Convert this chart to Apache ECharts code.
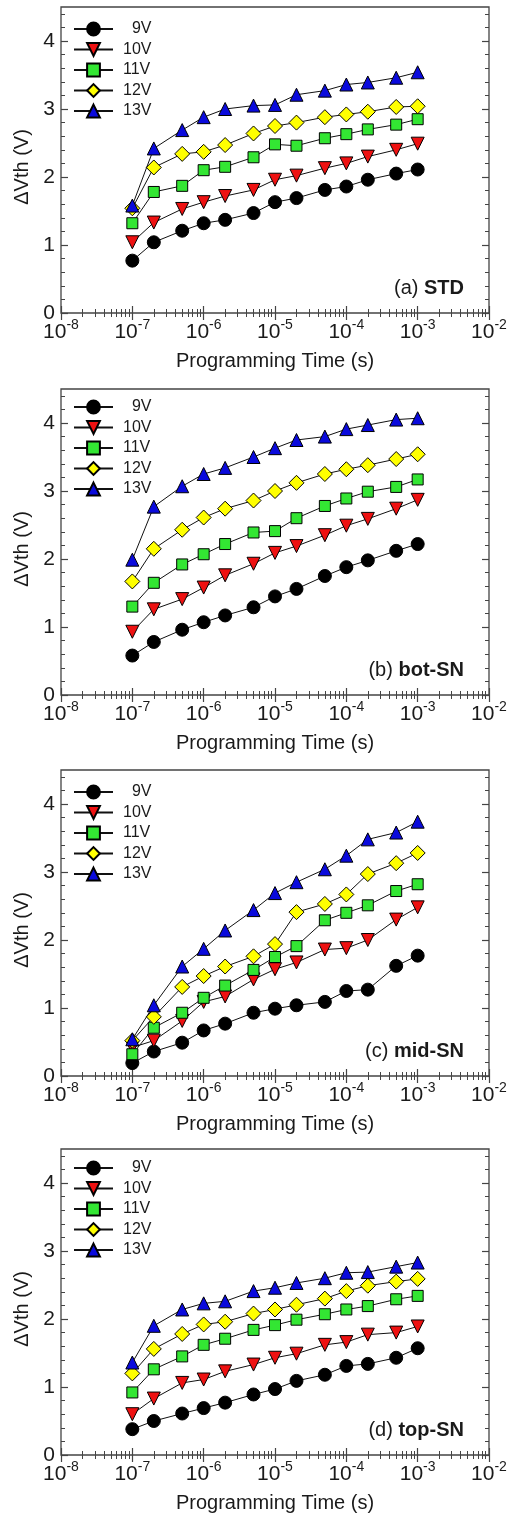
<!DOCTYPE html>
<html>
<head>
<meta charset="utf-8">
<script src="https://cdn.jsdelivr.net/npm/echarts@6/dist/echarts.min.js"></script>
<style>
html,body{margin:0;padding:0;background:#fff;}
#chart{width:511px;height:1515px;}
</style>
</head>
<body>
<div id="chart"></div>
<script>
// ---------------- data ----------------
const times = [1e-7, 2e-7, 5e-7, 1e-6, 2e-6, 5e-6, 1e-5, 2e-5, 5e-5, 1e-4, 2e-4, 5e-4, 1e-3];
const voltages = ['9V', '10V', '11V', '12V', '13V'];
const panelTags = ['(a) ', '(b) ', '(c) ', '(d) '];
const panelNames = ['STD', 'bot-SN', 'mid-SN', 'top-SN'];
const xTickValues = [1e-8, 1e-7, 1e-6, 1e-5, 1e-4, 1e-3, 1e-2];
const yTickValues = [0, 1, 2, 3, 4];

// (a) STD
const std9  = [0.77, 1.04, 1.21, 1.32, 1.37, 1.47, 1.63, 1.69, 1.81, 1.86, 1.96, 2.05, 2.11];
const std10 = [1.04, 1.33, 1.53, 1.63, 1.72, 1.81, 1.96, 2.02, 2.13, 2.20, 2.30, 2.40, 2.49];
const std11 = [1.32, 1.78, 1.87, 2.10, 2.15, 2.29, 2.48, 2.46, 2.57, 2.63, 2.70, 2.77, 2.85];
const std12 = [1.54, 2.14, 2.34, 2.37, 2.47, 2.64, 2.75, 2.80, 2.88, 2.92, 2.96, 3.03, 3.04];
const std13 = [1.58, 2.42, 2.69, 2.88, 3.00, 3.05, 3.06, 3.21, 3.27, 3.36, 3.39, 3.46, 3.54];
// (b) bot-SN
const bot9  = [0.58, 0.78, 0.96, 1.07, 1.17, 1.29, 1.45, 1.56, 1.75, 1.88, 1.98, 2.12, 2.22];
const bot10 = [0.93, 1.26, 1.41, 1.58, 1.76, 1.93, 2.09, 2.19, 2.35, 2.49, 2.59, 2.74, 2.87];
const bot11 = [1.30, 1.65, 1.92, 2.07, 2.22, 2.39, 2.41, 2.60, 2.78, 2.89, 2.99, 3.06, 3.17];
const bot12 = [1.67, 2.15, 2.43, 2.61, 2.74, 2.86, 3.00, 3.12, 3.25, 3.32, 3.38, 3.47, 3.54];
const bot13 = [1.99, 2.77, 3.07, 3.25, 3.34, 3.50, 3.63, 3.75, 3.80, 3.91, 3.97, 4.05, 4.07];
// (c) mid-SN
const mid9  = [0.19, 0.36, 0.49, 0.67, 0.77, 0.93, 0.99, 1.04, 1.09, 1.25, 1.27, 1.62, 1.77];
const mid10 = [0.42, 0.52, 0.81, 1.09, 1.17, 1.42, 1.57, 1.67, 1.86, 1.88, 2.00, 2.30, 2.48];
const mid11 = [0.32, 0.71, 0.93, 1.15, 1.33, 1.56, 1.75, 1.91, 2.29, 2.40, 2.51, 2.72, 2.82];
const mid12 = [0.52, 0.87, 1.31, 1.47, 1.61, 1.76, 1.94, 2.41, 2.53, 2.67, 2.97, 3.13, 3.28];
const mid13 = [0.54, 1.04, 1.61, 1.87, 2.14, 2.44, 2.69, 2.85, 3.04, 3.24, 3.48, 3.58, 3.74];
// (d) top-SN
const top9  = [0.38, 0.50, 0.61, 0.69, 0.77, 0.89, 0.97, 1.09, 1.18, 1.31, 1.34, 1.43, 1.57];
const top10 = [0.60, 0.83, 1.06, 1.11, 1.23, 1.33, 1.43, 1.49, 1.62, 1.66, 1.77, 1.80, 1.89];
const top11 = [0.92, 1.26, 1.45, 1.62, 1.71, 1.84, 1.91, 1.99, 2.07, 2.14, 2.19, 2.29, 2.34];
const top12 = [1.20, 1.56, 1.78, 1.92, 1.96, 2.08, 2.14, 2.21, 2.30, 2.41, 2.49, 2.55, 2.59];
const top13 = [1.36, 1.90, 2.14, 2.23, 2.26, 2.41, 2.46, 2.53, 2.60, 2.68, 2.69, 2.77, 2.83];

const panelData = [
  [std9, std10, std11, std12, std13],
  [bot9, bot10, bot11, bot12, bot13],
  [mid9, mid10, mid11, mid12, mid13],
  [top9, top10, top11, top12, top13]
];

// ---------------- styles / layout ----------------
const FONT = 'Liberation Sans, Arial, sans-serif';
const AXIS_COLOR = '#444';
const TEXT_COLOR = '#1a1a1a';
const seriesStyle = [
  { symbol: 'circle',   rotate: 0,   size: 13, color: '#000000' },
  { symbol: 'triangle', rotate: 180, size: 13, color: '#ee1111' },
  { symbol: 'rect',     rotate: 0,   size: 11, color: '#33e633' },
  { symbol: 'diamond',  rotate: 0,   size: 15, color: '#ffff00' },
  { symbol: 'triangle', rotate: 0,   size: 13, color: '#0a0adc' }
];
const gridTops = [7, 389, 770, 1149];
const legendTops = [21, 399, 784, 1160];
const GRID_LEFT = 61, GRID_W = 428, GRID_H = 306;

// minor tick positions (axis decoration only)
const minorX = [];
for (let e = -8; e < -2; e++) for (let k = 2; k <= 9; k++) minorX.push(k * Math.pow(10, e));
const minorY = [];
for (let v = 0; v <= 4.4001; v += 0.2) { const r = Math.round(v * 10) / 10; if (Math.abs(r - Math.round(r)) > 1e-6) minorY.push(r); }

const grids = [], xAxes = [], yAxes = [], series = [], legends = [], titles = [];

function xLabelFmt(v) {
  const e = Math.round(Math.log10(v));
  return '{b|10}{s|' + e + '}';
}

gridTops.forEach((top, i) => {
  grids.push({ left: GRID_LEFT, top: top, width: GRID_W, height: GRID_H, show: true,
    borderColor: AXIS_COLOR, borderWidth: 1.3, backgroundColor: 'transparent', containLabel: false });

  const xb = { type: 'log', logBase: 10, gridIndex: i, min: 1e-8, max: 1e-2,
    splitLine: { show: false }, axisLine: { show: false } };
  const xi = xAxes.length;
  xAxes.push(Object.assign({}, xb, { position: 'bottom',
    axisTick: { inside: true, length: 7, customValues: xTickValues, lineStyle: { color: AXIS_COLOR, width: 1.2 } },
    axisLabel: { customValues: xTickValues, formatter: xLabelFmt, margin: 5, color: TEXT_COLOR,
      rich: { b: { fontSize: 21, fontFamily: FONT, color: TEXT_COLOR, lineHeight: 25, verticalAlign: 'bottom' },
              s: { fontSize: 14, fontFamily: FONT, color: TEXT_COLOR, lineHeight: 15, verticalAlign: 'top' } } },
    name: 'Programming Time (s)', nameLocation: 'middle', nameGap: 38,
    nameTextStyle: { fontSize: 20, fontFamily: FONT, color: TEXT_COLOR } }));
  xAxes.push(Object.assign({}, xb, { position: 'bottom',
    axisTick: { inside: true, length: 4, customValues: minorX, lineStyle: { color: AXIS_COLOR, width: 1 } },
    axisLabel: { show: false } }));
  xAxes.push(Object.assign({}, xb, { position: 'top',
    axisTick: { inside: true, length: 7, customValues: xTickValues, lineStyle: { color: AXIS_COLOR, width: 1.2 } },
    axisLabel: { show: false } }));
  xAxes.push(Object.assign({}, xb, { position: 'top',
    axisTick: { inside: true, length: 4, customValues: minorX, lineStyle: { color: AXIS_COLOR, width: 1 } },
    axisLabel: { show: false } }));

  const yb = { type: 'value', gridIndex: i, min: 0, max: 4.5,
    splitLine: { show: false }, axisLine: { show: false } };
  const yi = yAxes.length;
  yAxes.push(Object.assign({}, yb, { position: 'left',
    axisTick: { inside: true, length: 7, customValues: yTickValues, lineStyle: { color: AXIS_COLOR, width: 1.2 } },
    axisLabel: { customValues: yTickValues, fontSize: 21, fontFamily: FONT, color: TEXT_COLOR, margin: 6 },
    name: 'ΔVth (V)', nameLocation: 'middle', nameRotate: 90, nameGap: 25,
    nameTextStyle: { fontSize: 20, fontFamily: FONT, color: TEXT_COLOR, padding: [0, 14, 0, 0] } }));
  yAxes.push(Object.assign({}, yb, { position: 'left',
    axisTick: { inside: true, length: 4, customValues: minorY, lineStyle: { color: AXIS_COLOR, width: 1 } },
    axisLabel: { show: false } }));
  yAxes.push(Object.assign({}, yb, { position: 'right',
    axisTick: { inside: true, length: 7, customValues: yTickValues, lineStyle: { color: AXIS_COLOR, width: 1.2 } },
    axisLabel: { show: false } }));
  yAxes.push(Object.assign({}, yb, { position: 'right',
    axisTick: { inside: true, length: 4, customValues: minorY, lineStyle: { color: AXIS_COLOR, width: 1 } },
    axisLabel: { show: false } }));

  panelData[i].forEach((vals, k) => {
    const st = seriesStyle[k];
    series.push({
      type: 'line', name: voltages[k], xAxisIndex: xi, yAxisIndex: yi,
      data: times.map((t, j) => [t, vals[j]]),
      symbol: st.symbol, symbolRotate: st.rotate, symbolSize: st.size,
      lineStyle: { color: '#111', width: 1 },
      itemStyle: { color: st.color, borderColor: '#000', borderWidth: 1 },
      z: 2 + k, animation: false, emphasis: { disabled: true }
    });
  });

  legends.push({
    orient: 'vertical', left: 73, top: legendTops[i], padding: 0,
    itemWidth: 39, itemHeight: 16, itemGap: 4.5,
    data: voltages, selectedMode: false,
    formatter: n => (n === '9V' ? '\u2007' + n : n),
    textStyle: { fontSize: 16, fontFamily: FONT, color: TEXT_COLOR, padding: [0, 0, 0, 5] }
  });

  titles.push({
    text: '{n|' + panelTags[i] + '}{b|' + panelNames[i] + '}',
    right: 47, top: top + GRID_H - 37, padding: 0,
    textStyle: { fontWeight: 'normal', rich: {
      n: { fontSize: 20, fontFamily: FONT, color: TEXT_COLOR, fontWeight: 'normal', lineHeight: 24 },
      b: { fontSize: 20, fontFamily: FONT, color: TEXT_COLOR, fontWeight: 'bold', lineHeight: 24 } } }
  });
});

const chart = echarts.init(document.getElementById('chart'), null, { renderer: 'canvas' });
chart.setOption({
  backgroundColor: '#fff',
  animation: false,
  grid: grids, xAxis: xAxes, yAxis: yAxes, series: series, legend: legends, title: titles
});
</script>
</body>
</html>
